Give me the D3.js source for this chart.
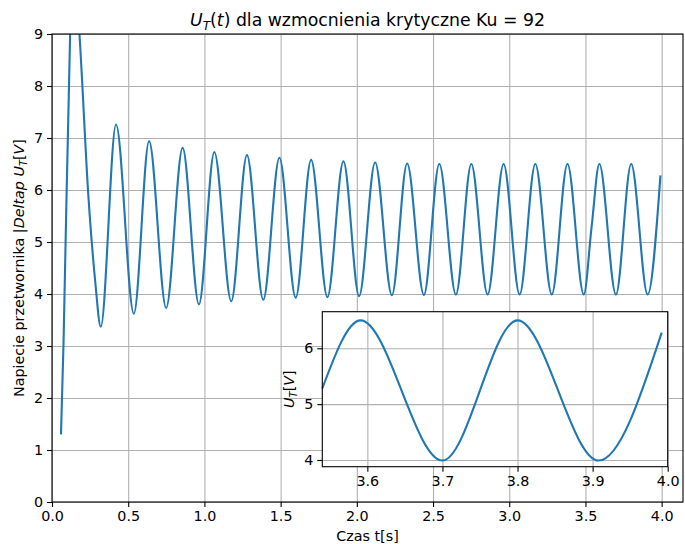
<!DOCTYPE html>
<html>
<head>
<meta charset="utf-8">
<script src="https://cdn.jsdelivr.net/npm/d3@7"></script>
<style>
  body { margin: 0; background: #fff; }
  svg { font-family: "DejaVu Sans", sans-serif; }
</style>
</head>
<body>
<div id="chart"></div>
<script>
// Czas t[s] (ekstrema + kilka punktow na pierwszym skoku)
const timeValues = [
  0.059, 0.076, 0.119, 0.148, 0.180, 0.239, 0.283, 0.320,
  0.420, 0.537, 0.637, 0.749, 0.857, 0.964, 1.065, 1.176,
  1.279, 1.386, 1.492, 1.599, 1.700, 1.807, 1.912, 2.015,
  2.120, 2.230, 2.330, 2.440, 2.541, 2.650, 2.751, 2.858,
  2.963, 3.068, 3.171, 3.279, 3.382, 3.489, 3.540, 3.591,
  3.700, 3.800, 3.908, 3.992
];
// U_T [V]
const voltageValues = [
  1.30, 3.10, 9.00, 10.30, 9.00, 5.87, 4.26, 3.37,
  7.26, 3.62, 6.94, 3.73, 6.81, 3.80, 6.73, 3.86,
  6.67, 3.89, 6.62, 3.93, 6.58, 3.94, 6.55, 3.96,
  6.53, 3.975, 6.51, 3.98, 6.50, 3.99, 6.50, 3.99,
  6.50, 3.99, 6.50, 3.99, 6.50, 3.99, 5.28, 6.50,
  3.99, 6.50, 3.99, 6.28
];

const xTicks = [0, 0.5, 1.0, 1.5, 2.0, 2.5, 3.0, 3.5, 4.0];
const yTicks = [0, 1, 2, 3, 4, 5, 6, 7, 8, 9];
const insetXTicks = [3.6, 3.7, 3.8, 3.9, 4.0];
const insetYTicks = [4, 5, 6];
const insetStart = 3.54;

const data = timeValues.map((t, i) => ({ t: t, v: voltageValues[i] }));

const lineColor = '#1f77b4';
const gridColor = '#b0b0b0';
const fontSize = 14.3;
const titleSize = 17.3;

// helper for matplotlib-like mathtext (italic + subscript)
function mathText(textSel, parts, size) {
  parts.forEach(p => {
    const ts = textSel.append('tspan').text(p.t);
    if (p.i) ts.attr('font-style', 'italic');
    if (p.sub) ts.attr('font-size', size * 0.7).attr('dy', size * 0.22);
    if (p.after) ts.attr('dy', -size * 0.22);
  });
}

const margin = { top: 34, right: 2, bottom: 42, left: 52 };
const width = 685 - margin.left - margin.right;
const height = 544 - margin.top - margin.bottom;

const svg = d3.select('#chart')
  .append('svg')
    .attr('width', 685)
    .attr('height', 544);

const g = svg.append('g')
    .attr('transform', `translate(${margin.left},${margin.top})`);

// scales
const x = d3.scaleLinear().domain([0, 4.14]).range([0, width]);
const y = d3.scaleLinear().domain([0, 9]).range([height, 0]);

// grid
g.append('g')
    .attr('transform', `translate(0,${height})`)
    .call(d3.axisBottom(x).tickValues(xTicks).tickSize(-height).tickFormat(''))
    .call(s => s.select('.domain').remove())
    .selectAll('line').attr('stroke', gridColor).attr('stroke-width', 1.1);

g.append('g')
    .call(d3.axisLeft(y).tickValues(yTicks).tickSize(-width).tickFormat(''))
    .call(s => s.select('.domain').remove())
    .selectAll('line').attr('stroke', gridColor).attr('stroke-width', 1.1);

// clip for the curve
svg.append('defs').append('clipPath')
    .attr('id', 'plotClip')
  .append('rect')
    .attr('width', width)
    .attr('height', height);

const line = d3.line()
  .x(d => x(d.t))
  .y(d => y(d.v))
  .curve(d3.curveMonotoneX);

g.append('path')
    .datum(data)
    .attr('clip-path', 'url(#plotClip)')
    .attr('fill', 'none')
    .attr('stroke', lineColor)
    .attr('stroke-width', 2.1)
    .attr('stroke-linejoin', 'round')
    .attr('d', line);

// axes
const xAxis = g.append('g')
    .attr('transform', `translate(0,${height})`)
    .call(d3.axisBottom(x).tickValues(xTicks).tickSize(5).tickPadding(4).tickFormat(d3.format('.1f')));
const yAxis = g.append('g')
    .call(d3.axisLeft(y).tickValues(yTicks).tickSize(5).tickPadding(4).tickFormat(d3.format('d')));

[xAxis, yAxis].forEach(a => {
  a.select('.domain').remove();
  a.selectAll('text').attr('font-size', fontSize).attr('fill', '#000').attr('font-family', '"DejaVu Sans", sans-serif');
  a.selectAll('line').attr('stroke', '#000').attr('stroke-width', 1.1);
});

// spines
g.append('rect')
    .attr('width', width)
    .attr('height', height)
    .attr('fill', 'none')
    .attr('stroke', '#000')
    .attr('stroke-width', 1.1);

// title
const title = svg.append('text')
    .attr('x', margin.left + width / 2)
    .attr('y', 26)
    .attr('text-anchor', 'middle')
    .attr('font-size', titleSize);
mathText(title, [
  { t: 'U', i: true },
  { t: 'T', i: true, sub: true },
  { t: '(', after: true },
  { t: 't', i: true },
  { t: ') dla wzmocnienia krytyczne Ku = 92' }
], titleSize);

// x label
svg.append('text')
    .attr('x', margin.left + width / 2)
    .attr('y', 541)
    .attr('text-anchor', 'middle')
    .attr('font-size', fontSize)
    .text('Czas t[s]');

// y label
const yLabel = svg.append('text')
    .attr('transform', `translate(24,${margin.top + height / 2}) rotate(-90)`)
    .attr('text-anchor', 'middle')
    .attr('font-size', fontSize);
mathText(yLabel, [
  { t: 'Napiecie przetwornika |' },
  { t: 'Deltap U', i: true },
  { t: 'T', i: true, sub: true },
  { t: '[', after: true },
  { t: 'V', i: true },
  { t: ']' }
], fontSize);

/*** Inset ***/
const inset = { left: 322.3, top: 311.7, width: 345.4, height: 155 };

const ig = svg.append('g')
    .attr('transform', `translate(${inset.left},${inset.top})`);

ig.append('rect')
    .attr('width', inset.width)
    .attr('height', inset.height)
    .attr('fill', '#fff');

const ix = d3.scaleLinear().domain([insetStart, 4.0]).range([0, inset.width]);
const iy = d3.scaleLinear().domain([3.88, 6.655]).range([inset.height, 0]);

ig.append('g')
    .attr('transform', `translate(0,${inset.height})`)
    .call(d3.axisBottom(ix).tickValues(insetXTicks).tickSize(-inset.height).tickFormat(''))
    .call(s => s.select('.domain').remove())
    .selectAll('line').attr('stroke', gridColor).attr('stroke-width', 1.1);

ig.append('g')
    .call(d3.axisLeft(iy).tickValues(insetYTicks).tickSize(-inset.width).tickFormat(''))
    .call(s => s.select('.domain').remove())
    .selectAll('line').attr('stroke', gridColor).attr('stroke-width', 1.1);

const insetLine = d3.line()
  .x(d => ix(d.t))
  .y(d => iy(d.v))
  .curve(d3.curveMonotoneX);

ig.append('path')
    .datum(data.filter(d => d.t >= insetStart))
    .attr('fill', 'none')
    .attr('stroke', lineColor)
    .attr('stroke-width', 2.1)
    .attr('stroke-linejoin', 'round')
    .attr('d', insetLine);

const ixAxis = ig.append('g')
    .attr('transform', `translate(0,${inset.height})`)
    .call(d3.axisBottom(ix).tickValues(insetXTicks).tickSize(5).tickPadding(4).tickFormat(d3.format('.1f')));
const iyAxis = ig.append('g')
    .call(d3.axisLeft(iy).tickValues(insetYTicks).tickSize(5).tickPadding(4).tickFormat(d3.format('d')));

[ixAxis, iyAxis].forEach(a => {
  a.select('.domain').remove();
  a.selectAll('text').attr('font-size', fontSize).attr('fill', '#000').attr('font-family', '"DejaVu Sans", sans-serif');
  a.selectAll('line').attr('stroke', '#000').attr('stroke-width', 1.1);
});

ig.append('rect')
    .attr('width', inset.width)
    .attr('height', inset.height)
    .attr('fill', 'none')
    .attr('stroke', '#000')
    .attr('stroke-width', 1.1);

const iyLabel = svg.append('text')
    .attr('transform', `translate(294,${inset.top + inset.height / 2}) rotate(-90)`)
    .attr('text-anchor', 'middle')
    .attr('font-size', fontSize);
mathText(iyLabel, [
  { t: 'U', i: true },
  { t: 'T', i: true, sub: true },
  { t: '[', after: true },
  { t: 'V', i: true },
  { t: ']' }
], fontSize);
</script>
</body>
</html>
